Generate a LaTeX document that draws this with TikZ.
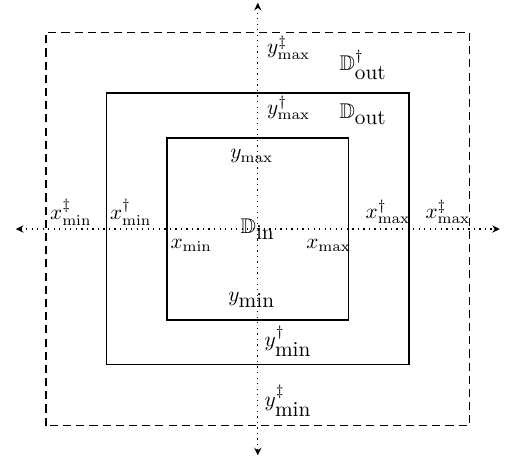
\documentclass[tikz,border=0pt]{standalone}
\usepackage{amssymb}
\usetikzlibrary{arrows.meta}

\begin{document}
\begin{tikzpicture}[
		% Style definitions
		dom/.style={thick},
		ext/.style={semithick, dash pattern=on 3.8pt off 2.4pt},
		axis/.style={{Stealth[length=3.6pt, width=3.4pt]}-{Stealth[length=3.6pt, width=3.4pt]}, dotted, semithick},
		lbl/.style={inner sep=0pt, font=\normalsize},
		]
		\useasboundingbox (-4.26,-3.80) rectangle (4.25,3.785);

		% === Axes ===
		\coordinate (west) at (-4,0);
		\coordinate (east) at (4,0);
		\coordinate (north) at (0,3.74);
		\coordinate (south) at (0,-3.74);
		\draw[axis] (west) -- (east);
		\draw[axis] (south) -- (north);

		% === Domains: inner, outer, extended outer ===
		\draw[dom] (-1.5,-1.5) rectangle (1.5,1.5);
		\draw[dom] (-2.5,-2.24) rectangle (2.5,2.25);
		\draw[ext] (-3.5,-3.25) rectangle (3.5,3.25);

		% === Labels: inner domain ===
		\node[lbl] (din) at (0,0) {$\mathbb{D}_{\mbox{in}}$};
		\node[lbl] (ymax) at (-0.1,1.2) {$y_{\mathrm{max}}$};
		\node[lbl] (ymin) at (-0.1,-1.17) {$y_{\mbox{min}}$};
		\node[lbl] (xmin) at (-1.1,-0.27) {$x_{\mathrm{min}}$};
		\node[lbl] (xmax) at (1.17,-0.27) {$x_{\mathrm{max}}$};

		% === Labels: outer domain ===
		\node[lbl] (dout) at (1.74,1.9) {$\mathbb{D}_{\mbox{out}}$};
		\node[lbl] (ymaxd) at (0.51,2.0) {$y^{\dagger}_{\mathrm{max}}$};
		\node[lbl] (ymind) at (0.5,-1.85) {$y^{\dagger}_{\mbox{min}}$};
		\node[lbl] (xmind) at (-2.1,0.28) {$x^{\dagger}_{\mathrm{min}}$};
		\node[lbl] (xmaxd) at (2.15,0.28) {$x^{\dagger}_{\mathrm{max}}$};

		% === Labels: extended outer domain ===
		\node[lbl] (doutdd) at (1.74,2.71) {$\mathbb{D}^{\dagger}_{\mbox{out}}$};
		\node[lbl] (ymaxdd) at (0.51,3.0) {$y^{\ddagger}_{\mathrm{max}}$};
		\node[lbl] (ymindd) at (0.5,-2.84) {$y^{\ddagger}_{\mbox{min}}$};
		\node[lbl] (xmindd) at (-3.09,0.28) {$x^{\ddagger}_{\mathrm{min}}$};
		\node[lbl] (xmaxdd) at (3.14,0.28) {$x^{\ddagger}_{\mathrm{max}}$};

	\end{tikzpicture}
\end{document}
